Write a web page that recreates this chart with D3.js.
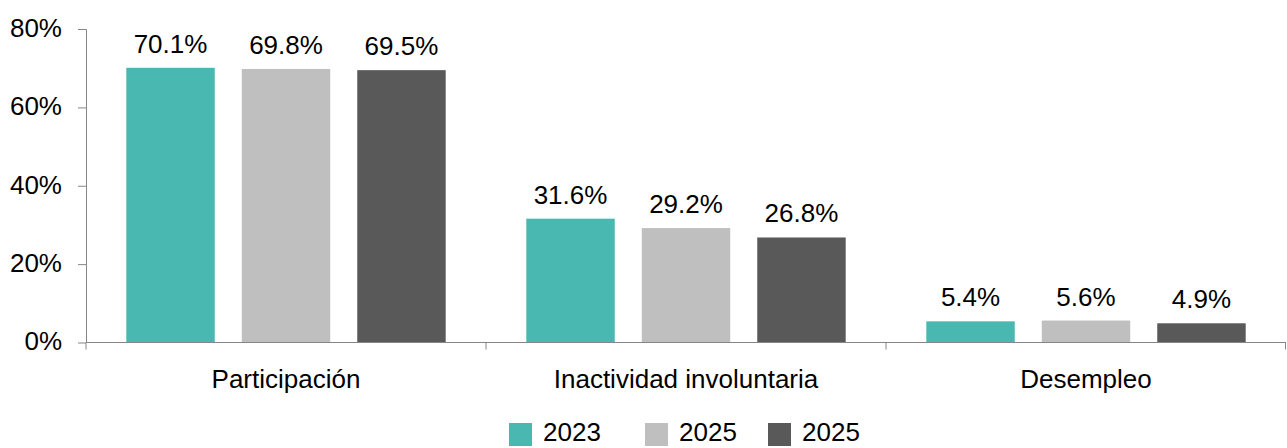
<!DOCTYPE html>
<html>
<head>
<meta charset="utf-8">
<script src="https://cdn.jsdelivr.net/npm/d3@7"></script>
<style>
  body { margin: 0; background: #fff; }
  svg text { font-family: "Liberation Sans", Arial, sans-serif; fill: #000; }
</style>
</head>
<body>
<div id="chart"></div>
<script>
  let width = 1287;
  let height = 448;
  let margin = {top: 29, right: 1, bottom: 105, left: 86};
  let fontSize = '26px';

  // data
  let categories = ['Participación', 'Inactividad involuntaria', 'Desempleo'];
  let seriesNames = ['2023', '2025', '2025'];
  let seriesColors = ['#48B8B0', '#BFBFBF', '#595959'];
  let values2023 = [70.1, 31.6, 5.4];
  let values2025a = [69.8, 29.2, 5.6];
  let values2025b = [69.5, 26.8, 4.9];
  let yTicks = [0, 20, 40, 60, 80];

  let series = [values2023, values2025a, values2025b];

  let svg = d3.select('#chart')
  .append('svg')
  .attr('width', width)
  .attr('height', height);

  let innerH = 342.5 - margin.top;

  let g = svg.append('g')
  .attr('transform', `translate(${margin.left}, ${margin.top})`);

  let x0 = d3.scaleBand().domain(categories).range([0, 1200]).padding(0);
  let x1 = d3.scaleBand().domain([0, 1, 2]).range([0, x0.bandwidth()])
  .paddingInner(0.234).paddingOuter(0.349);
  let y = d3.scaleLinear().domain([0, 80]).range([innerH, 0]);

  // y axis
  let yAxis = g.append('g')
  .call(d3.axisLeft(y).tickValues(yTicks).tickSize(8).tickFormat((d) => d + '%'));
  yAxis.select('.domain').attr('stroke', '#868686').attr('d', `M-8,0.5H0.5V${innerH}`);
  yAxis.selectAll('.tick line').attr('stroke', '#868686');
  yAxis.selectAll('.tick text')
  .attr('x', -24)
  .attr('dy', '0.28em')
  .style('font-size', fontSize);

  // bars
  categories.forEach((cat, ci) => {
    let grp = g.append('g').attr('transform', `translate(${x0(cat)}, 0)`);
    series.forEach((vals, si) => {
      grp.append('rect')
      .attr('x', x1(si))
      .attr('y', y(vals[ci]))
      .attr('width', x1.bandwidth())
      .attr('height', innerH - y(vals[ci]))
      .attr('fill', seriesColors[si]);
      grp.append('text')
      .attr('x', x1(si) + x1.bandwidth() / 2)
      .attr('y', y(vals[ci]) - 15)
      .attr('text-anchor', 'middle')
      .style('font-size', fontSize)
      .text(vals[ci].toFixed(1) + '%');
    });
  });

  // x axis
  let xAxis = g.append('g')
  .attr('transform', `translate(0, ${innerH})`);
  xAxis.append('line')
  .attr('x1', 0).attr('x2', 1200)
  .attr('stroke', '#868686');
  [0, 1, 2, 3].forEach((i) => {
    let tx = i * x0.step() - (i === 3 ? 0.5 : 0);
    xAxis.append('line')
    .attr('x1', tx).attr('x2', tx)
    .attr('y1', 0).attr('y2', 7)
    .attr('stroke', '#868686');
  });
  xAxis.selectAll('.cat')
  .data(categories)
  .enter().append('text')
  .attr('class', 'cat')
  .attr('x', (d) => x0(d) + x0.bandwidth() / 2)
  .attr('y', 45)
  .attr('text-anchor', 'middle')
  .style('font-size', fontSize)
  .text((d) => d);

  // legend
  let legendX = [509, 645, 768];
  let legend = svg.append('g');
  seriesNames.forEach((name, i) => {
    legend.append('rect')
    .attr('x', legendX[i]).attr('y', 423)
    .attr('width', 23).attr('height', 23)
    .attr('fill', seriesColors[i]);
    legend.append('text')
    .attr('x', legendX[i] + 34)
    .attr('y', 441)
    .style('font-size', fontSize)
    .text(name);
  });
</script>
</body>
</html>
